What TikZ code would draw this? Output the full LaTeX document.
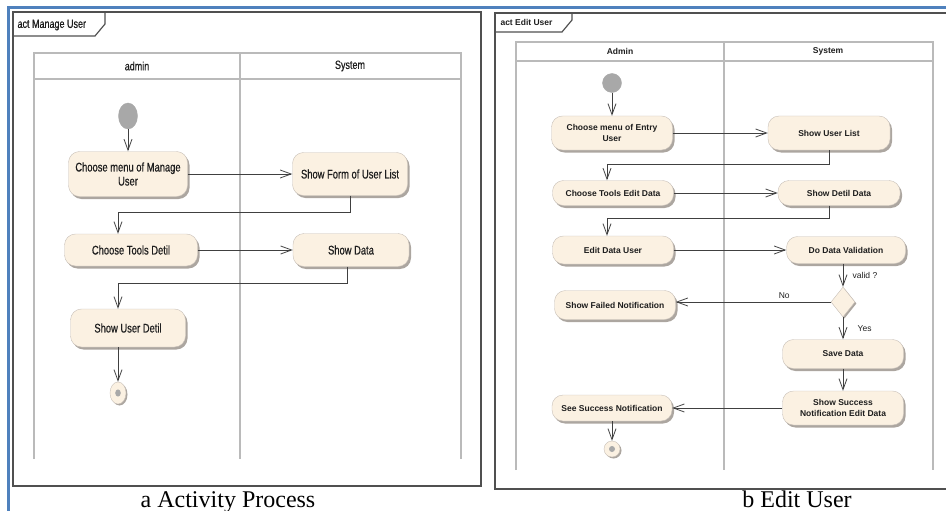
\documentclass[tikz,border=0pt]{standalone}
\usepackage{fontspec}
\setmainfont{Liberation Serif}
\newfontfamily\umlnarrow[FakeStretch=0.75, FakeBold=0.6]{Liberation Sans}
\newfontfamily\umlsans{Liberation Sans}
\usetikzlibrary{shapes.geometric, arrows.meta, positioning, calc, shadows}

\begin{document}
\begin{tikzpicture}[
    x=1pt, y=-1pt,
    >={Straight Barb[length=11pt, width=8pt]},
    % Define colors
    /utils/exec={
        \definecolor{umlCream}{RGB}{251, 241, 226}
        \definecolor{umlBorder}{RGB}{200, 192, 184}
        \definecolor{umlShadow}{RGB}{172, 166, 160}
        \definecolor{umlLine}{RGB}{64, 64, 64}
        \definecolor{umlLane}{RGB}{186, 186, 186}
        \definecolor{umlFrame}{RGB}{80, 80, 80}
        \definecolor{umlBlue}{RGB}{79, 129, 189}
        \definecolor{umlStart}{RGB}{168, 168, 168}
        \definecolor{umlText}{RGB}{30, 30, 30}
    },
    % Node Styles
    action/.style={
        draw=umlBorder, fill=umlCream, rounded corners=11pt,
        align=center, inner sep=2pt, text=umlText,
        drop shadow={shadow xshift=2pt, shadow yshift=-2.5pt, fill=umlShadow, opacity=1}
    },
    actLeft/.style={action, font=\umlnarrow\fontsize{12.5}{14}\selectfont},
    actRight/.style={action, font=\umlsans\bfseries\fontsize{8.5}{11}\selectfont},
    startNode/.style={fill=umlStart, draw=umlStart, inner sep=0pt},
    endNode/.style={fill=umlCream, draw=umlBorder, inner sep=0pt,
        drop shadow={shadow xshift=1.5pt, shadow yshift=-1.5pt, fill=umlShadow, opacity=1}},
    decisionNode/.style={diamond, fill=umlCream, draw=umlBorder, inner sep=0pt,
        minimum width=24pt, minimum height=30pt,
        drop shadow={shadow xshift=1.5pt, shadow yshift=-1.5pt, fill=umlShadow, opacity=1}},
    headLeft/.style={text=umlText, font=\umlnarrow\fontsize{12}{14}\selectfont},
    headRight/.style={text=umlText, font=\umlsans\bfseries\fontsize{8.5}{10}\selectfont},
    guard/.style={text=umlText, font=\umlsans\fontsize{8.5}{10}\selectfont},
    caption/.style={anchor=base, font=\fontsize{24}{28}\selectfont},
    lane/.style={draw=umlLane, line width=1.6pt},
    frameLine/.style={draw=umlFrame, line width=1.2pt},
    conn/.style={->, umlLine, line width=0.8pt}
]
\useasboundingbox (0,0) rectangle (946,511);

% --- Page border ---
\draw[umlBlue, line width=2.2pt] (8.5,511) -- (8.5,7.5) -- (946,7.5);

% =================================================================
% LEFT SIDE: ACT MANAGE USER
% =================================================================

% --- Frame and tab ---
\draw[frameLine] (13,12) rectangle (481,486);
\draw[frameLine] (13,36) -- (95,36) -- (105,24) -- (105,12);
\node[headLeft, anchor=west] (tabA) at (14,25) {act Manage User};

% --- Swimlanes ---
\draw[lane] (34,459) -- (34,53) -- (461,53) -- (461,459);
\draw[lane] (34,79) -- (461,79);
\draw[lane] (240,53) -- (240,459);
\node[headLeft] (laneAdminA) at (137,66) {admin};
\node[headLeft] (laneSysA) at (350,66) {System};

% --- Actions ---
\node[startNode, ellipse, minimum width=19pt, minimum height=26pt] (startA) at (128,116) {};
\node[actLeft, minimum width=119pt, minimum height=45pt] (chooseManage) at (128,174) {Choose menu of Manage\\User};
\node[actLeft, minimum width=115pt, minimum height=43pt] (showForm) at (350,174) {Show Form of User List};
\node[actLeft, minimum width=133pt, minimum height=32pt] (chooseTools) at (131,250) {Choose Tools Detil};
\node[actLeft, minimum width=116pt, minimum height=33pt] (showData) at (351,250) {Show Data};
\node[actLeft, minimum width=115pt, minimum height=38pt] (showDetil) at (128,328) {Show User Detil};
\node[endNode, ellipse, minimum width=16pt, minimum height=22pt] (endA) at (118,393) {};
\fill[umlStart] (endA.center) ellipse (2.8pt and 3.6pt);

% --- Connections ---
\draw[conn] (startA) -- (chooseManage);
\draw[conn] (chooseManage) -- (showForm);
\draw[conn] (showForm.south) -- ++(0,17) -| ([xshift=-13pt]chooseTools.north);
\draw[conn] (chooseTools) -- (showData);
\draw[conn] ([xshift=-4pt]showData.south) -- ++(0,17) -| ([xshift=-10pt]showDetil.north);
\draw[conn] ([xshift=-10pt]showDetil.south) -- (endA);

\node[caption] (capA) at (228,507) {a Activity Process};

% =================================================================
% RIGHT SIDE: ACT EDIT USER
% =================================================================

% --- Frame and tab ---
\draw[frameLine] (950,13) -- (495,13) -- (495,489) -- (950,489);
\draw[frameLine] (495,32) -- (562,32) -- (572,20) -- (572,13);
\node[headRight, anchor=west] (tabB) at (497,22) {act Edit User};

% --- Swimlanes ---
\draw[lane] (516,470) -- (516,42) -- (933,42) -- (933,470);
\draw[lane] (516,61) -- (933,61);
\draw[lane] (724,42) -- (724,470);
\node[headRight] (laneAdminB) at (620,51) {Admin};
\node[headRight] (laneSysB) at (828,51) {System};

% --- Actions ---
\node[startNode, circle, minimum size=19pt] (startB) at (612,83) {};
\node[actRight, minimum width=121pt, minimum height=34pt] (chooseEntry) at (612,133) {Choose menu of Entry\\User};
\node[actRight, minimum width=122pt, minimum height=34pt] (showList) at (829,133) {Show User List};
\node[actRight, minimum width=121pt, minimum height=25pt] (chooseEdit) at (613,193) {Choose Tools Edit Data};
\node[actRight, minimum width=122pt, minimum height=25pt] (showDetilData) at (839,193) {Show Detil Data};
\node[actRight, minimum width=121pt, minimum height=28pt] (editUser) at (613,250) {Edit Data User};
\node[actRight, minimum width=119pt, minimum height=27pt] (validate) at (846,250) {Do Data Validation};
\node[decisionNode] (decision) at (843,302) {};
\node[actRight, minimum width=121pt, minimum height=29pt] (showFailed) at (615,305) {Show Failed Notification};
\node[actRight, minimum width=121pt, minimum height=29pt] (saveData) at (843,354) {Save Data};
\node[actRight, minimum width=121pt, minimum height=34pt] (showSuccess) at (843,408) {Show Success\\Notification Edit Data};
\node[actRight, minimum width=120pt, minimum height=26pt] (seeSuccess) at (612,408) {See Success Notification};
\node[endNode, circle, minimum size=16pt] (endB) at (612,449) {};
\fill[umlStart] (endB.center) circle (3pt);

% --- Connections ---
\draw[conn] (startB) -- (chooseEntry);
\draw[conn] (chooseEntry) -- (showList);
\draw[conn] (showList.south) -- ++(0,14) -| ([xshift=-6pt]chooseEdit.north);
\draw[conn] (chooseEdit) -- (showDetilData);
\draw[conn] ([xshift=-10pt]showDetilData.south) -- ++(0,13) -| ([xshift=-6pt]editUser.north);
\draw[conn] (editUser) -- (validate);
\draw[conn] (decision.north |- validate.south) -- node[guard, right, xshift=6pt] {valid ?} (decision.north);
\draw[conn] (decision.west) -- node[guard, above, pos=0.3] {No} (showFailed.east |- decision.west);
\draw[conn] (decision.south) -- node[guard, right, xshift=11pt] {Yes} (saveData.north);
\draw[conn] (saveData) -- (showSuccess);
\draw[conn] (showSuccess) -- (seeSuccess);
\draw[conn] (seeSuccess) -- (endB);

\node[caption] (capB) at (797,507) {b Edit User};

\end{tikzpicture}
\end{document}
